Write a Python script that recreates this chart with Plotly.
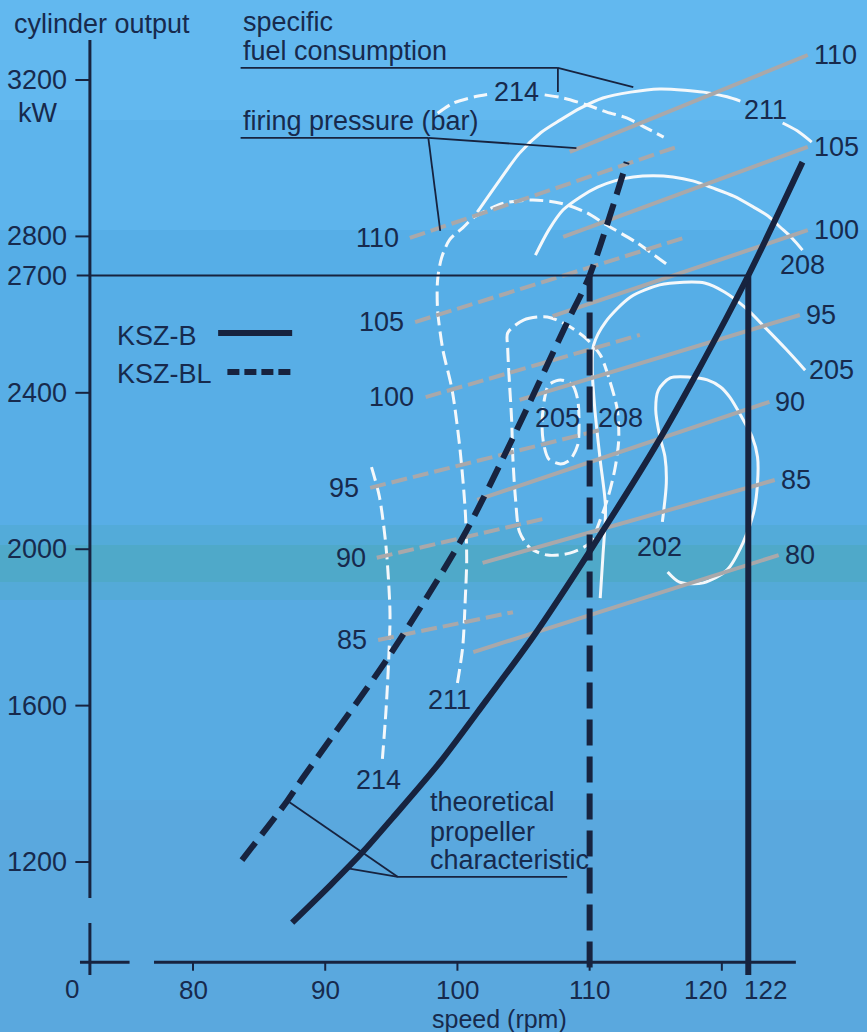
import plotly.graph_objects as go

# ---------------- data (speed in rpm, output in kW) ----------------
x_tick_vals = [80, 90, 100, 110, 120, 122]
y_tick_vals = [1200, 1600, 2000, 2400, 2700, 2800, 3200]

rated_kw = 2700
rated_rpm_b = 122
rated_rpm_bl = 110

# theoretical propeller characteristics
ksz_b_rpm = [87.5, 90.4, 92.9, 95.1, 98.7, 102.2, 105.7, 110.2, 115.1, 118.1, 122.0, 126.1]
ksz_b_kw = [1045, 1141, 1228, 1313, 1456, 1614, 1775, 2005, 2270, 2450, 2700, 2990]
ksz_bl_rpm = [83.7, 87.1, 88.3, 94.8, 100.4, 104.2, 108.3, 110.0, 112.8]
ksz_bl_kw = [1205, 1355, 1415, 1725, 2030, 2285, 2580, 2700, 2990]

# specific fuel consumption contours, KSZ-BL (dashed)
sfc214a_l_rpm = [98.5, 99.7, 101.3, 102.5]
sfc214a_l_kw = [3115, 3141, 3157, 3164]
sfc214a_r_rpm = [106.6, 108.0, 109.8, 111.3, 112.8, 114.3, 115.6]
sfc214a_r_kw = [3162, 3154, 3136, 3118, 3103, 3077, 3054]
sfc214b_rpm = [93.5, 94.1, 94.6, 94.9, 94.8, 94.6, 94.3]
sfc214b_kw = [2210, 2134, 2006, 1837, 1717, 1589, 1453]
sfc211bl_rpm = [100.0, 100.4, 100.6, 100.7, 100.6, 100.2, 99.6, 98.9, 98.5, 98.5, 98.8,
                99.4, 100.4, 101.3, 103.5, 105.7, 107.8, 109.7, 111.3, 113.6, 115.9]
sfc211bl_kw = [1658, 1750, 1878, 1972, 2093, 2254, 2407, 2510, 2612, 2689, 2745,
               2791, 2822, 2850, 2885, 2893, 2885, 2862, 2829, 2783, 2727]
sfc208bl_rpm = [103.8, 105.0, 106.8, 108.3, 109.7, 110.8, 111.5, 112.1, 112.2, 111.9, 111.4,
                110.8, 110.0, 108.5, 106.8, 105.5, 104.7, 104.4, 104.2, 104.1, 103.9, 103.8, 103.8]
sfc208bl_kw = [2553, 2586, 2594, 2573, 2540, 2497, 2433, 2356, 2279, 2203, 2134,
               2075, 2016, 1990, 1985, 2003, 2044, 2126, 2228, 2331, 2446, 2517, 2553]
sfc205bl_rpm = [107.8, 108.7, 109.1, 109.2, 109.1, 108.5, 107.8, 106.9, 106.5, 106.4, 106.6, 106.9, 107.8]
sfc205bl_kw = [2433, 2420, 2382, 2325, 2267, 2228, 2218, 2231, 2274, 2325, 2387, 2420, 2433]

# specific fuel consumption contours, KSZ-B (solid)
sfc211b_a_rpm = [101.5, 103.2, 104.7, 106.3, 107.8, 109.3, 111.0, 113.1, 115.3, 117.2, 118.6, 120.4, 121.4]
sfc211b_a_kw = [2862, 2944, 3013, 3065, 3098, 3128, 3154, 3169, 3177, 3174, 3169, 3157, 3146]
sfc211b_b_rpm = [124.6, 125.7, 126.8]
sfc211b_b_kw = [3090, 3070, 3041]
sfc208b_rpm = [105.9, 106.9, 108.0, 109.3, 110.6, 111.9, 113.3, 114.8, 116.3, 117.8, 119.3,
               120.9, 122.4, 123.5, 124.4, 125.3, 126.1]
sfc208b_kw = [2752, 2816, 2868, 2901, 2926, 2942, 2952, 2955, 2952, 2942, 2924,
              2903, 2875, 2852, 2824, 2796, 2765]
sfc205b_rpm = [110.8, 111.0, 111.2, 110.8, 110.4, 110.2, 110.3, 111.2, 113.1, 115.3, 117.1,
               118.7, 120.2, 121.8, 123.3, 124.9, 126.3]
sfc205b_kw = [1875, 1980, 2108, 2228, 2356, 2458, 2522, 2581, 2645, 2676, 2683,
              2681, 2658, 2617, 2566, 2510, 2458]
sfc202b_rpm = [115.5, 115.8, 115.7, 115.3, 115.0, 115.2, 116.1, 117.6, 118.9, 119.9, 120.6,
               121.5, 122.3, 122.7, 122.7, 122.4, 121.6, 120.4, 118.6, 116.8, 115.9]
sfc202b_kw = [2070, 2169, 2236, 2290, 2356, 2407, 2438, 2440, 2433, 2415, 2389,
              2338, 2287, 2236, 2169, 2093, 2016, 1947, 1914, 1916, 1942]

sfc_labels = ["214", "211", "208", "205", "205", "208", "202", "211", "214"]
sfc_label_rpm = [104.5, 123.3, 126.1, 128.3, 107.6, 112.3, 115.3, 99.4, 94.0]
sfc_label_kw = [3169, 3123, 2727, 2458, 2336, 2336, 2006, 1614, 1410]

# firing pressure (bar) lines, KSZ-B (solid grey, labels at right end)
fp_b_bar = [110, 105, 100, 95, 90, 85, 80]
fp_b_rpm0 = [108.5, 108.0, 107.2, 104.7, 101.5, 101.9, 101.2]
fp_b_kw0 = [3016, 2799, 2596, 2382, 2126, 1965, 1737]
fp_b_rpm1 = [126.5, 126.5, 126.5, 125.9, 123.6, 124.0, 124.3]
fp_b_kw1 = [3264, 3029, 2816, 2599, 2377, 2177, 1985]

# firing pressure (bar) lines, KSZ-BL (dashed grey, labels at left end)
fp_bl_bar = [110, 105, 100, 95, 90, 85]
fp_bl_rpm0 = [96.4, 96.8, 97.6, 93.4, 93.9, 94.0]
fp_bl_kw0 = [2796, 2581, 2389, 2157, 1978, 1768]
fp_bl_rpm1 = [116.6, 117.1, 113.8, 110.8, 106.8, 104.2]
fp_bl_kw1 = [3029, 2796, 2548, 2305, 2080, 1839]

# ---------------- styles ----------------
FONT = "Liberation Sans, Arial, Helvetica, sans-serif"
TXT = "#172a4d"
INK = "#17233f"
WHITE = "#f4f8fb"
GREY = "#a9a8aa"
FS = 27
X_LABEL_SHIFT = {120: -1.2, 122: 1.3}   # crowded tick labels are nudged apart

fig = go.Figure()


def line(x, y, color, width, dash="solid", shape="linear"):
    fig.add_trace(go.Scatter(x=x, y=y, mode="lines", hoverinfo="skip", showlegend=False,
                             line=dict(color=color, width=width, dash=dash, shape=shape,
                                       smoothing=0.8)))


# white contours
WD = "14px,6px"
for xs, ys in [(sfc214a_l_rpm, sfc214a_l_kw), (sfc214a_r_rpm, sfc214a_r_kw),
               (sfc214b_rpm, sfc214b_kw), (sfc211bl_rpm, sfc211bl_kw),
               (sfc208bl_rpm, sfc208bl_kw), (sfc205bl_rpm, sfc205bl_kw)]:
    line(xs, ys, WHITE, 3, WD, "spline")
for xs, ys in [(sfc211b_a_rpm, sfc211b_a_kw), (sfc211b_b_rpm, sfc211b_b_kw),
               (sfc208b_rpm, sfc208b_kw), (sfc205b_rpm, sfc205b_kw),
               (sfc202b_rpm, sfc202b_kw)]:
    line(xs, ys, WHITE, 3, "solid", "spline")

# grey firing-pressure lines
for i in range(len(fp_b_bar)):
    line([fp_b_rpm0[i], fp_b_rpm1[i]], [fp_b_kw0[i], fp_b_kw1[i]], GREY, 4)
for i in range(len(fp_bl_bar)):
    line([fp_bl_rpm0[i], fp_bl_rpm1[i]], [fp_bl_kw0[i], fp_bl_kw1[i]], GREY, 4, "16px,6px")

# operating limits
line([rated_rpm_bl, rated_rpm_bl], [rated_kw, 919], INK, 6, "26px,11px")
line([rated_rpm_b, rated_rpm_b], [rated_kw, 911], INK, 6)

# propeller characteristics
line(ksz_b_rpm, ksz_b_kw, INK, 6, "solid", "spline")
line(ksz_bl_rpm, ksz_bl_kw, INK, 6, "22px,10px", "spline")

# legend samples
line([81.9, 87.5], [2553, 2553], INK, 6)
line([82.6, 87.7], [2453, 2453], INK, 6, "12px,5px")

shapes = []
# background shading (photographed print)
bands = [(0, 120, "#62b8ef"), (120, 230, "#5db4ec"), (230, 300, "#56aee7"),
         (300, 525, "#58aee6"), (525, 545, "#53abd9"), (545, 582, "#4fa9c9"),
         (582, 600, "#54aad8"), (600, 800, "#58abe2"), (800, 1032, "#5aa8de")]
for p0, p1, c in bands:
    shapes.append(dict(type="rect", xref="paper", yref="paper", x0=0, x1=1,
                       y0=1 - p1 / 1032, y1=1 - p0 / 1032, fillcolor=c,
                       line=dict(width=0), layer="below"))

AX = dict(color=INK, width=3)
axis_x = 72.2   # rpm position of the drawn kW axis
axis_y = 944    # kW position of the drawn rpm axis
# kW axis (broken)
shapes.append(dict(type="line", x0=axis_x, x1=axis_x, y0=1108, y1=3302, line=AX))
shapes.append(dict(type="line", x0=axis_x, x1=axis_x, y0=911, y1=1044, line=AX))
# rpm axis (broken)
shapes.append(dict(type="line", x0=71.45, x1=75.2, y0=axis_y, y1=axis_y, line=AX))
shapes.append(dict(type="line", x0=77.05, x1=125.6, y0=axis_y, y1=axis_y, line=AX))
for v in x_tick_vals:
    shapes.append(dict(type="line", x0=v, x1=v, y0=axis_y, y1=axis_y - 22, line=dict(color=INK, width=2)))
for v in y_tick_vals:
    if v == rated_kw:
        continue
    shapes.append(dict(type="line", x0=71.1, x1=axis_x, y0=v, y1=v, line=dict(color=INK, width=2)))
# rated output line
shapes.append(dict(type="line", x0=71.2, x1=rated_rpm_b, y0=rated_kw, y1=rated_kw,
                   line=dict(color=INK, width=2)))

THIN = dict(color=INK, width=1.8)
# leader lines
leaders = [
    (83.6, 3231, 107.6, 3231), (107.6, 3231, 107.6, 3169), (107.6, 3231, 113.3, 3182),
    (83.6, 3052, 97.8, 3052), (97.8, 3052, 109.0, 3026), (97.8, 3052, 98.7, 2814),
    (108.3, 1162, 95.5, 1162), (95.5, 1162, 87.3, 1353), (95.5, 1162, 91.5, 1185),
]
for x0, y0, x1, y1 in leaders:
    shapes.append(dict(type="line", x0=x0, x1=x1, y0=y0, y1=y1, line=THIN))

ann = []


def text(x, y, s, xa="center", size=FS):
    ann.append(dict(x=x, y=y, text=s, showarrow=False, xanchor=xa, yanchor="middle",
                    font=dict(family=FONT, size=size, color=TXT)))


for v in x_tick_vals:
    text(v + X_LABEL_SHIFT.get(v, 0), 872, str(v), size=26)
text(70.85, 876, "0", size=26)
for v in y_tick_vals:
    text(70.6, v, str(v), "right")
text(68.3, 3116, "kW")
text(66.3, 3343, "cylinder output", "left")
text(83.6, 3348, "specific", "left")
text(83.6, 3274, "fuel consumption", "left")
text(83.6, 3095, "firing pressure (bar)", "left")
text(97.8, 1353, "theoretical", "left")
text(97.8, 1277, "propeller", "left")
text(97.8, 1205, "characteristic", "left")
text(103.2, 799, "speed (rpm)", size=25)
text(74.1, 2545, "KSZ-B", "left")
text(74.1, 2448, "KSZ-BL", "left")

for s, x, y in zip(sfc_labels, sfc_label_rpm, sfc_label_kw):
    text(x, y, s)
for i, b in enumerate(fp_b_bar):
    text(fp_b_rpm1[i] + 0.3, fp_b_kw1[i], str(b), "left")
for i, b in enumerate(fp_bl_bar):
    text(fp_bl_rpm0[i] - 0.7, fp_bl_kw0[i], str(b), "right")

fig.update_layout(
    width=867, height=1032, autosize=False,
    margin=dict(l=0, r=0, t=0, b=0),
    paper_bgcolor="#5bb2e8", plot_bgcolor="rgba(0,0,0,0)",
    showlegend=False,
    xaxis=dict(range=[65.40, 130.98], visible=False, fixedrange=True),
    yaxis=dict(range=[765.3, 3404.6], visible=False, fixedrange=True),
    shapes=shapes, annotations=ann,
)

fig.write_html("out.html", config={"displayModeBar": False},
               post_script="document.body.style.margin='0px';"
                           "document.body.style.overflow='hidden';")
